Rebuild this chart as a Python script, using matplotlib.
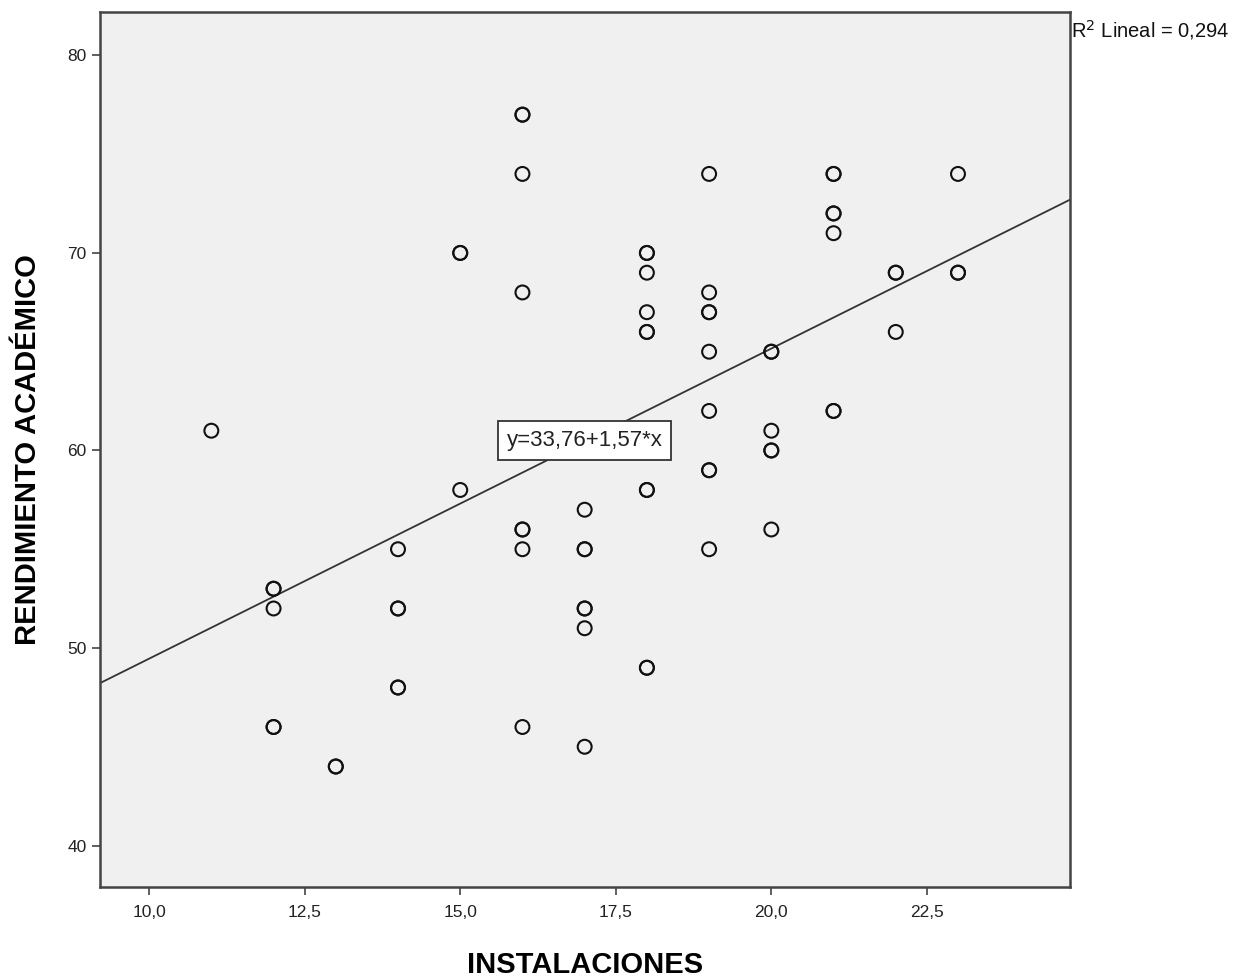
import numpy as np
import matplotlib.pyplot as plt

# INSTALACIONES vs RENDIMIENTO ACADÉMICO (repeated points = overplotted circles)
instalaciones = [11,
                 12, 12, 12, 12, 12,
                 13, 13,
                 14, 14, 14, 14, 14,
                 15, 15, 15,
                 16, 16, 16, 16, 16, 16, 16, 16,
                 17, 17, 17, 17, 17, 17, 17,
                 18, 18, 18, 18, 18, 18, 18, 18, 18, 18,
                 19, 19, 19, 19, 19, 19, 19, 19, 19,
                 20, 20, 20, 20, 20, 20,
                 21, 21, 21, 21, 21, 21, 21,
                 22, 22, 22,
                 23, 23, 23]
rendimiento = [61,
               53, 53, 52, 46, 46,
               44, 44,
               55, 52, 52, 48, 48,
               70, 70, 58,
               77, 77, 74, 68, 56, 56, 55, 46,
               57, 55, 55, 52, 52, 51, 45,
               70, 70, 69, 67, 66, 66, 58, 58, 49, 49,
               74, 68, 67, 67, 65, 62, 59, 59, 55,
               65, 65, 61, 60, 60, 56,
               74, 74, 72, 72, 71, 62, 62,
               69, 69, 66,
               74, 69, 69]

intercept = 33.76
slope = 1.57
r2 = 0.294

plt.rcParams['font.family'] = ['Liberation Sans', 'DejaVu Sans']

fig = plt.figure(figsize=(12.56, 9.8), dpi=100)
ax = fig.add_axes([0.0796, 0.0949, 0.7723, 0.8929])
ax.set_facecolor('#f0f0f0')

ax.scatter(instalaciones, rendimiento, s=100, facecolors='none',
           edgecolors='#111111', linewidths=1.5, zorder=3)

xlim = (9.21, 24.8)
xs = np.array(xlim)
ax.plot(xs, intercept + slope * xs, color='#333333', lw=1.3, zorder=2)

ax.set_xlim(*xlim)
ax.set_ylim(37.9, 82.2)
ax.set_xticks([10, 12.5, 15, 17.5, 20, 22.5])
ax.set_xticklabels(['10,0', '12,5', '15,0', '17,5', '20,0', '22,5'])
ax.set_yticks([40, 50, 60, 70, 80])
ax.tick_params(axis='both', direction='out', length=6, width=1.2,
               color='#444444', labelsize=12.5, labelcolor='#222222')
ax.tick_params(axis='x', pad=7)

for sp in ax.spines.values():
    sp.set_color('#444444')
    sp.set_linewidth(1.8)

ax.set_xlabel('INSTALACIONES', fontsize=21, fontweight='bold', labelpad=22)
ax.set_ylabel('RENDIMIENTO ACADÉMICO', fontsize=21, fontweight='bold', labelpad=18)

ax.text(17.0, 60.5, 'y=33,76+1,57*x', fontsize=16, ha='center', va='center',
        color='#222222', zorder=4,
        bbox=dict(boxstyle='square,pad=0.4', facecolor='white',
                  edgecolor='#333333', linewidth=1.3))

fig.text(0.853, 0.969, 'R$^2$ Lineal = 0,294', fontsize=14.5, ha='left', va='center',
         color='#111111')

fig.savefig('out.png', dpi=100, facecolor='white')
